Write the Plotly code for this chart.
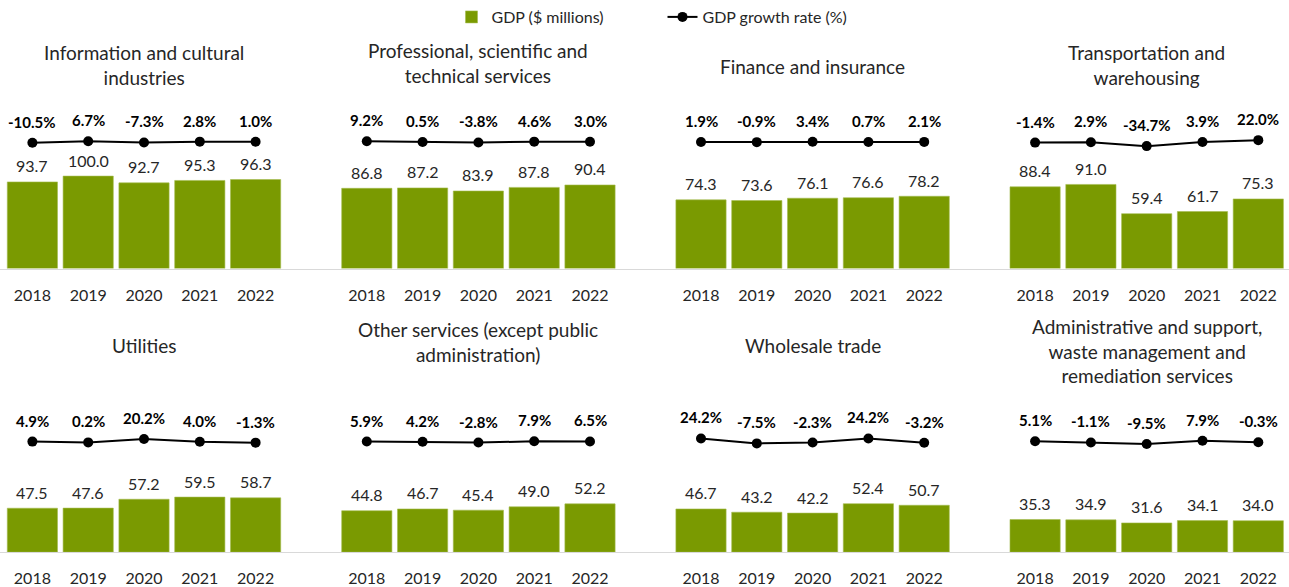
import plotly.graph_objects as go

# ---------------- data ----------------
years = ["2018", "2019", "2020", "2021", "2022"]
industries = [
    "Information and cultural<br>industries",
    "Professional, scientific and<br>technical services",
    "Finance and insurance",
    "Transportation and<br>warehousing",
    "Utilities",
    "Other services (except public<br>administration)",
    "Wholesale trade",
    "Administrative and support,<br>waste management and<br>remediation services",
]
gdp_info = [93.7, 100.0, 92.7, 95.3, 96.3]
gdp_prof = [86.8, 87.2, 83.9, 87.8, 90.4]
gdp_fin = [74.3, 73.6, 76.1, 76.6, 78.2]
gdp_trans = [88.4, 91.0, 59.4, 61.7, 75.3]
gdp_util = [47.5, 47.6, 57.2, 59.5, 58.7]
gdp_other = [44.8, 46.7, 45.4, 49.0, 52.2]
gdp_whole = [46.7, 43.2, 42.2, 52.4, 50.7]
gdp_admin = [35.3, 34.9, 31.6, 34.1, 34.0]

gr_info = [-10.5, 6.7, -7.3, 2.8, 1.0]
gr_prof = [9.2, 0.5, -3.8, 4.6, 3.0]
gr_fin = [1.9, -0.9, 3.4, 0.7, 2.1]
gr_trans = [-1.4, 2.9, -34.7, 3.9, 22.0]
gr_util = [4.9, 0.2, 20.2, 4.0, -1.3]
gr_other = [5.9, 4.2, -2.8, 7.9, 6.5]
gr_whole = [24.2, -7.5, -2.3, 24.2, -3.2]
gr_admin = [5.1, -1.1, -9.5, 7.9, -0.3]

gdp_all = [gdp_info, gdp_prof, gdp_fin, gdp_trans, gdp_util, gdp_other, gdp_whole, gdp_admin]
gr_all = [gr_info, gr_prof, gr_fin, gr_trans, gr_util, gr_other, gr_whole, gr_admin]

# ---------------- layout constants (pixels) ----------------
W, H = 1289, 587
FONT = "Lato"
GREEN = "#7A9A01"
TXT = "#262626"
col_centers = [144.0, 478.4, 812.6, 1146.7]
col_bounds = [0, 311.3, 645.5, 979.7, W]
step = 55.8
row_base = [270, 555]
row_top = [95, 380]
bar_scale = 0.93  # px per $ million
# growth axis: (px per %, pixel of 0%)
gr_scale = [(0.08, 142.6), (0.09, 142.8), (0.08, 142.8), (0.106, 143.2),
            (0.17, 444.7), (0.12, 444.5), (0.158, 444.5), (0.19, 444.5)]
title_y = [65, 63, 67, 65, 347, 344, 347, 353]

fig = go.Figure()
layout = dict(
    width=W, height=H, margin=dict(l=0, r=0, t=0, b=0),
    paper_bgcolor="white", plot_bgcolor="white",
    font=dict(family=FONT, color=TXT),
    showlegend=True,
    legend=dict(orientation="h", x=0.5 + 18 / W, xanchor="center", y=1 - 17 / H, yanchor="middle",
                font=dict(size=16, family=FONT, color=TXT), bgcolor="rgba(0,0,0,0)",
                itemwidth=30, tracegroupgap=0, entrywidth=166, entrywidthmode="pixels"),
    bargap=0.1,
)
annotations = []

for i in range(8):
    r, c = divmod(i, 4)
    xa = f"x{i+1}" if i else "x"
    ya = f"y{i+1}" if i else "y"
    ya2 = f"y{i+9}"
    L, R = col_bounds[c], col_bounds[c + 1]
    cc = col_centers[c]
    base, top = row_base[r], row_top[r]
    hpx = base - top
    xr = [2 - (cc - L) / step, 2 + (R - cc) / step]
    k, z = gr_scale[i]
    lo = -(base - z) / k
    hi = lo + hpx / k
    xkey = "xaxis" + (str(i + 1) if i else "")
    ykey = "yaxis" + (str(i + 1) if i else "")
    ykey2 = "yaxis" + str(i + 9)
    layout[xkey] = dict(domain=[L / W, R / W], anchor=ya, type="category", range=xr,
                        showline=True, linecolor="#D9D9D9", linewidth=1, showgrid=False,
                        ticks="", ticklabelstandoff=12, tickfont=dict(size=16, color=TXT, family=FONT),
                        zeroline=False, fixedrange=True)
    layout[ykey] = dict(domain=[1 - base / H, 1 - top / H], anchor=xa, range=[0, hpx / bar_scale],
                        visible=False, fixedrange=True)
    layout[ykey2] = dict(domain=[1 - base / H, 1 - top / H], anchor=xa, overlaying=ya,
                         range=[lo, hi], visible=False, fixedrange=True)

    fig.add_trace(go.Bar(x=years, y=gdp_all[i], xaxis=xa, yaxis=ya, name="GDP ($ millions)",
                         marker=dict(color=GREEN, line=dict(color="#A4BC50", width=0.6)),
                         width=0.9, showlegend=(i == 0), legendrank=1, hoverinfo="skip"))
    fig.add_trace(go.Scatter(x=years, y=gr_all[i], xaxis=xa, yaxis=ya2, name="GDP growth rate (%)",
                             mode="lines+markers", line=dict(color="black", width=2),
                             marker=dict(color="black", size=10), cliponaxis=False,
                             showlegend=(i == 0), legendrank=2, hoverinfo="skip"))
    for j, v in enumerate(gdp_all[i]):
        annotations.append(dict(x=j, y=v, xref=xa, yref=ya, text=f"{v:.1f}", showarrow=False,
                                yanchor="middle", yshift=16, font=dict(size=16, color=TXT, family=FONT)))
    for j, g in enumerate(gr_all[i]):
        annotations.append(dict(x=j, y=g, xref=xa, yref=ya2, text=f"<b>{g:.1f}%</b>", showarrow=False,
                                yanchor="middle", yshift=21, font=dict(size=15, color="black", family=FONT)))
    annotations.append(dict(x=cc / W, y=1 - title_y[i] / H, xref="paper", yref="paper",
                            text=industries[i], showarrow=False, xanchor="center", yanchor="middle",
                            font=dict(size=19, color=TXT, family=FONT)))

layout["annotations"] = annotations
fig.update_layout(**layout)
fig.write_html("out.html", config={"displayModeBar": False},
               post_script="document.body.style.margin='0px';")
